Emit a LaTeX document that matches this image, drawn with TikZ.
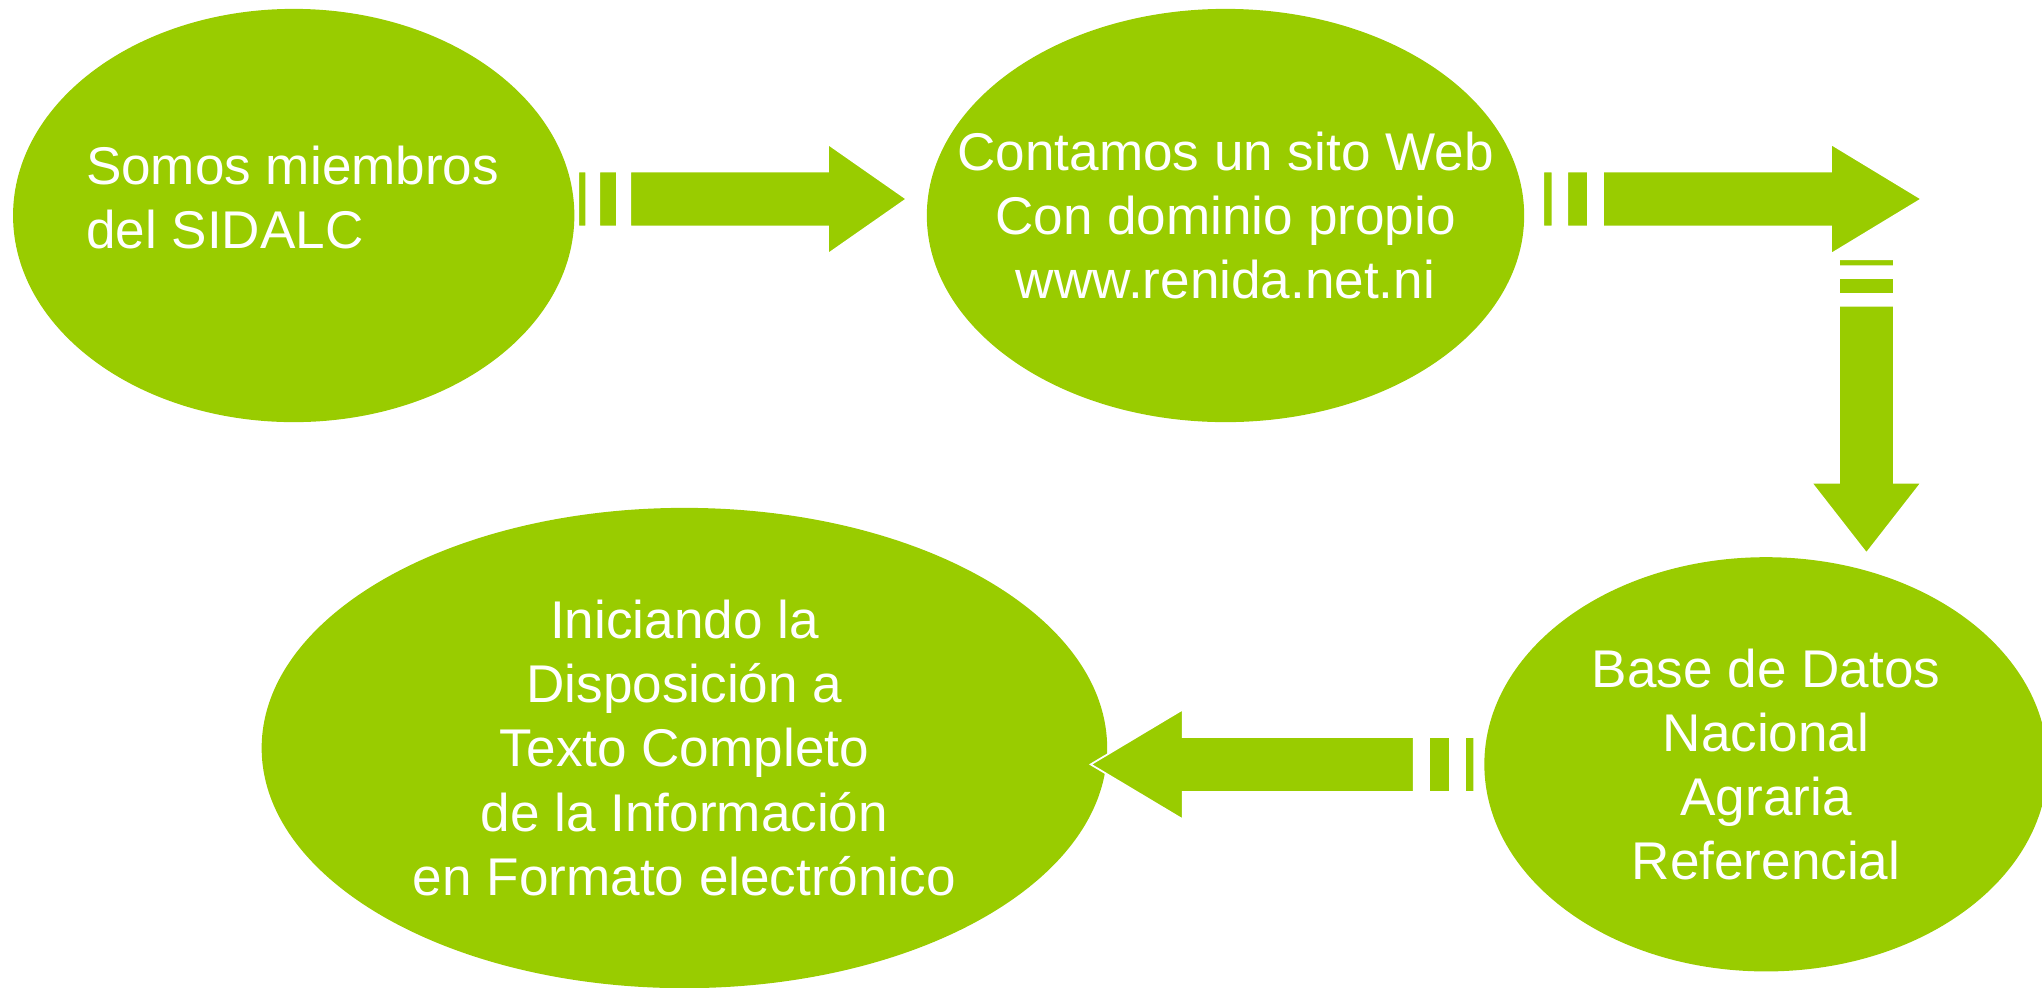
\documentclass[tikz,border=0pt]{standalone}
\usepackage{fontspec}
\setmainfont{Liberation Sans}
\usepackage{tikz}
\usetikzlibrary{shapes.geometric}
\usetikzlibrary{calc}
\definecolor{sidalcgreen}{RGB}{153,204,0}
% striped block arrow from #1 to the tip #2
\newcommand*{\stripeArrow}[2]{%
  \fill [stripe arrow]
    ($(#1)!0!(#2)!2.75mm!90:(#2)$) rectangle ($(#1)!.024!(#2)!2.75mm!-90:(#2)$)
    ($(#1)!.0635!(#2)!2.75mm!90:(#2)$) rectangle ($(#1)!.118!(#2)!2.75mm!-90:(#2)$)
    ($(#1)!.158!(#2)!2.75mm!90:(#2)$) -- ($(#1)!.76!(#2)!2.75mm!90:(#2)$)
      -- ($(#1)!.76!(#2)!5.5mm!90:(#2)$) -- (#2)
      -- ($(#1)!.76!(#2)!5.5mm!-90:(#2)$) -- ($(#1)!.76!(#2)!2.75mm!-90:(#2)$)
      -- ($(#1)!.158!(#2)!2.75mm!-90:(#2)$) -- cycle;
}

\begin{document}
\begin{tikzpicture}[x=0.01cm, y=-0.01cm,
    bubble/.style={ellipse, fill=sidalcgreen, inner sep=0pt},
    caption/.style={text=white, align=center, inner sep=0pt,
                    font=\fontsize{15.1pt}{18.2pt}\selectfont},
    stripe arrow/.style={fill=sidalcgreen, draw=white, line width=0.5pt}]

\clip (0,0) rectangle (2042,987);

\node [bubble, minimum width=5.61cm, minimum height=4.13cm] (sidalc) at (293.7,215.5) {};
\node [bubble, minimum width=5.97cm, minimum height=4.13cm] (web) at (1225.5,215.5) {};
\node [bubble, minimum width=5.63cm, minimum height=4.14cm] (base) at (1766,764.3) {};
\node [bubble, minimum width=8.45cm, minimum height=4.80cm] (texto) at (684.4,748) {};
%
\node [caption, align=left, anchor=west] (sidalc text) at ([shift={(73,-17.5)}]sidalc.west) {Somos miembros\\del SIDALC};
\node [caption] (web text) at (web) {Contamos un sito Web\\Con dominio propio\\www.renida.net.ni};
\node [caption] (base text) at (base) {Base de Datos\\Nacional\\Agraria\\Referencial};
\node [caption] (texto text) at (texto) {Iniciando la\\Disposición a\\Texto Completo\\de la Información\\en Formato electrónico};
%
\coordinate (a1 start) at (578.3,199);
\coordinate (a1 tip)   at (906.7,199);
\coordinate (a2 start) at (1543.3,199);
\coordinate (a2 tip)   at (1921.7,199);
\coordinate (a3 start) at (1866.4,259.3);
\coordinate (a3 tip)   at (1866.4,553.3);
\coordinate (a4 start) at (1474.3,764.4);
\coordinate (a4 tip)   at (1090.7,764.4);
%
\stripeArrow{a1 start}{a1 tip}
\stripeArrow{a2 start}{a2 tip}
\stripeArrow{a3 start}{a3 tip}
\stripeArrow{a4 start}{a4 tip}
\end{tikzpicture}
\end{document}
